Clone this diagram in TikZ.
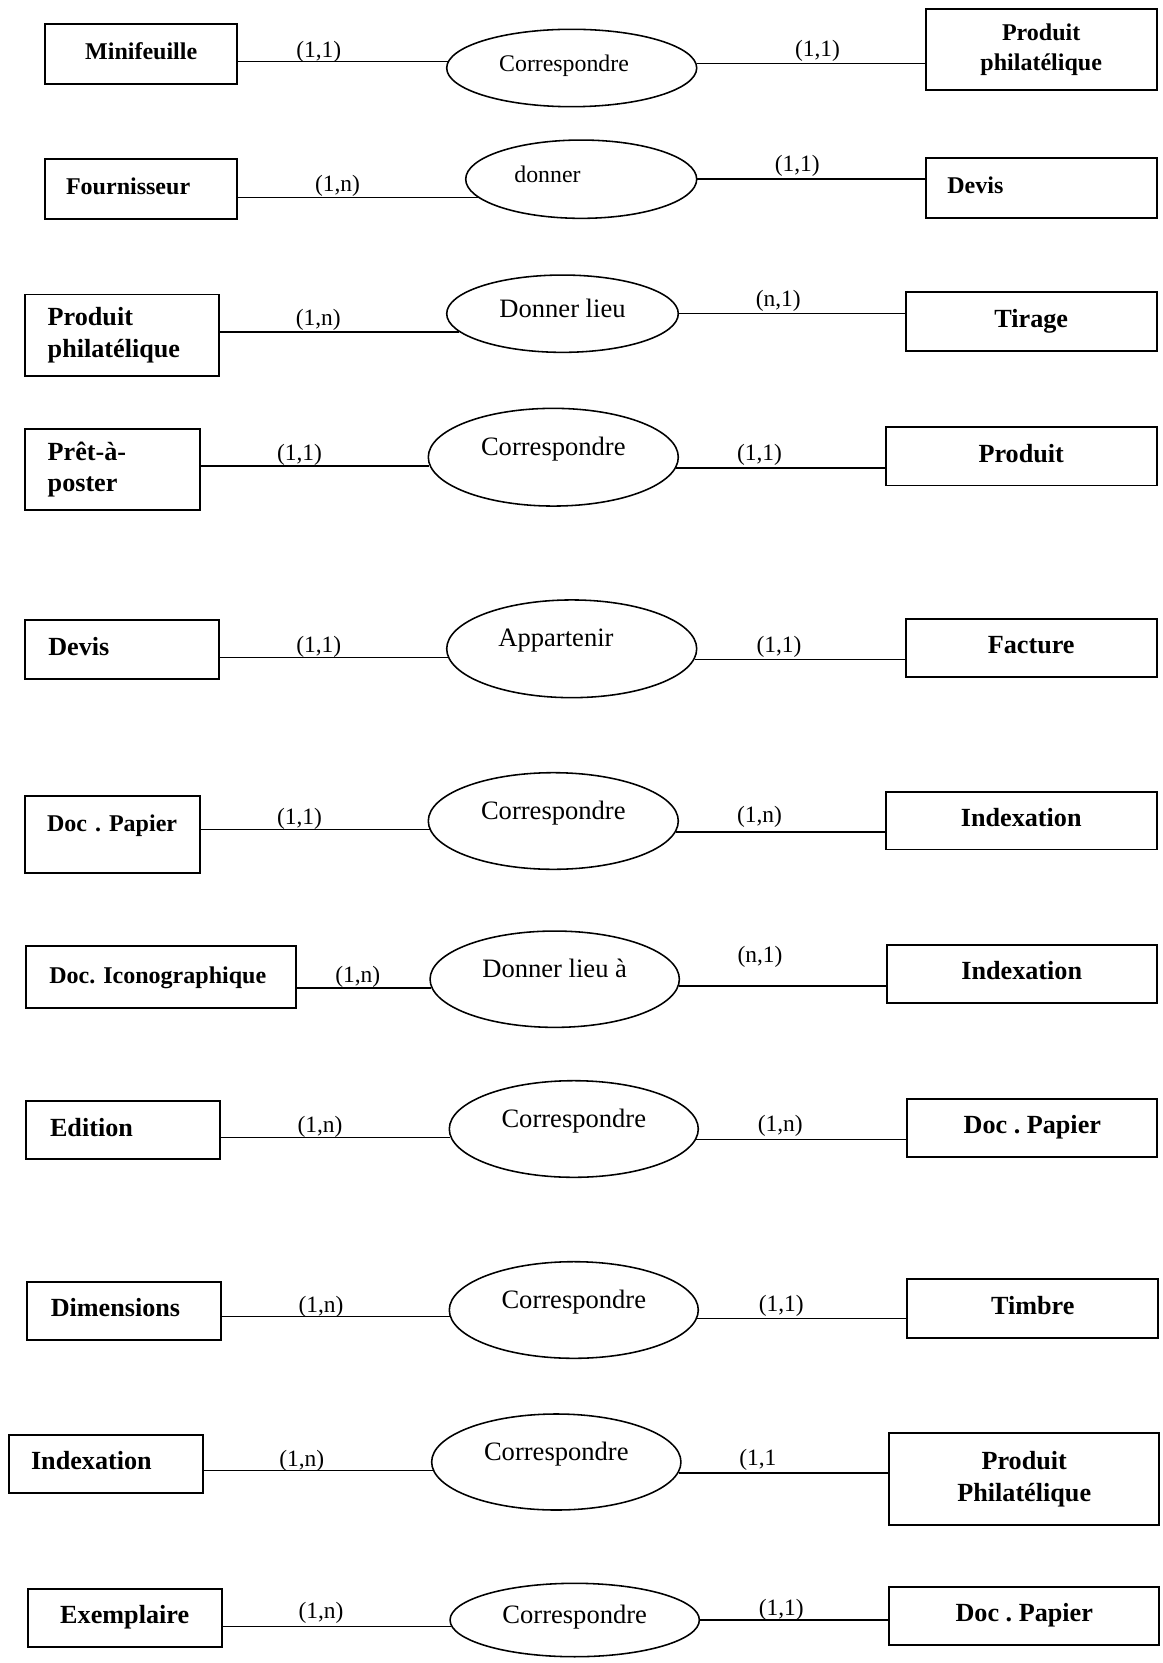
\documentclass[tikz,border=0pt]{standalone}
\usepackage{fontspec}
\setmainfont{Liberation Serif}
\usepackage{tikz}
\usetikzlibrary{shapes.geometric}
\frenchspacing

\begin{document}
\begin{tikzpicture}[x=0.512pt, y=-0.512pt,
		entite/.style={draw, line width=1pt, inner sep=0pt, align=center, font=\fontsize{13.4}{16.3}\selectfont\bfseries},
		petitgras/.style={font=\fontsize{12.3}{15}\selectfont\bfseries},
		une/.style={text height=9pt, text depth=3pt},
		boite/.style 2 args={minimum width=#1*\pas, minimum height=#2*\pas},
		gauche/.style={text width=#1*\pas, align=left},
		assoc/.style={draw, ellipse, line width=0.8pt, inner sep=0pt, font=\fontsize{13.6}{16}\selectfont, text height=9pt, text depth=11pt},
		petit/.style={font=\fontsize{12.2}{15}\selectfont},
		basse/.style={text depth=5.5pt},
		lien/.style={line width=0.8pt},
		card/.style={inner sep=0pt, font=\fontsize{12}{14}\selectfont, text height=8.5pt, text depth=2.5pt}]
					\def\pas{0.512pt};

					\useasboundingbox (0,0) rectangle (1163,1663);

					\begin{scope}[every node/.style={entite}]
						\node[une, petitgras, boite={192.3}{59.9}] (mini) at (141.2,53.9) {Minifeuille};
						\node[petitgras, boite={231}{81.2}] (pp1) at (1041.2,49.6) {Produit\\philatélique};
						\node[une, petitgras, boite={192.3}{59.4}, gauche=150.3] (four) at (141.2,188.9) {Fournisseur};
						\node[une, petitgras, boite={231}{59.5}, gauche=187.8] (devis1) at (1041.2,187.9) {Devis};
						\node[boite={194}{81.2}, gauche=148.6] (pp2) at (122,335.1) {Produit\\philatélique};
						\node[une, boite={251}{59.5}] (tirage) at (1031.2,321.6) {Tirage};
						\node[boite={175}{81.7}, gauche=129.6] (pret) at (112.5,469.6) {Prêt-à-\\poster};
						\node[une, boite={271}{58.4}] (prod) at (1021.2,456.3) {Produit};
						\node[une, boite={194}{59.4}, gauche=147.4] (devis2) at (122,649.5) {Devis};
						\node[une, boite={251}{57.3}] (fact) at (1031.2,647.9) {Facture};
						\node[une, petitgras, text depth=12pt, boite={175}{77.4}, gauche=131] (docpap1) at (112.5,834.7) {Doc\ .\ Papier};
						\node[une, boite={271}{57.8}] (index1) at (1021.2,820.6) {Indexation};
						\node[une, petitgras, boite={270}{62.1}, gauche=223.4] (icono) at (161,977.2) {Doc. Iconographique};
						\node[une, boite={270}{57.9}] (index2) at (1021.7,974) {Indexation};
						\node[une, boite={194}{58.4}, gauche=146] (edit) at (123,1130.2) {Edition};
						\node[une, boite={250}{57.8}] (docpap2) at (1032.3,1127.8) {Doc . Papier};
						\node[une, boite={194.3}{57.8}, gauche=146.3] (dim) at (123.9,1310.9) {Dimensions};
						\node[une, boite={251}{58.4}] (timbre) at (1032.8,1308.5) {Timbre};
						\node[une, boite={193.7}{57.3}, gauche=149.7] (index3) at (105.9,1464) {Indexation};
						\node[boite={270.3}{91.3}] (pp3) at (1024.2,1478.9) {Produit\\Philatélique};
						\node[une, boite={194}{57.3}] (exemp) at (124.7,1617.9) {Exemplaire};
						\node[une, boite={270.3}{58.5}] (docpap3) at (1024.2,1615.8) {Doc . Papier};
					\end{scope}

					\begin{scope}[every node/.style={assoc}]
						\node[basse, petit, boite={250}{77.4}, gauche=145] (cor1) at (571.7,68) {Correspondre};
						\node[basse, petit, boite={231}{78.3}, gauche=133.6] (don) at (581.2,179.2) {donner};
						\node[basse, boite={231.6}{77.3}] (dl) at (562.5,313.7) {Donner lieu};
						\node[boite={250}{97.7}] (cor2) at (553.3,457.2) {Correspondre};
						\node[boite={250}{97.7}, gauche=146.5] (app) at (571.7,648.8) {Appartenir};
						\node[boite={250}{96.6}] (cor3) at (553.3,821) {Correspondre};
						\node[boite={249.3}{96.3}] (dla) at (554.7,979.2) {Donner lieu à};
						\node[boite={249}{96.6}] (cor4) at (573.8,1129) {Correspondre};
						\node[boite={249}{96.6}] (cor5) at (573.8,1310) {Correspondre};
						\node[boite={249.3}{96}] (cor6) at (556.3,1462) {Correspondre};
						\node[basse, boite={249.3}{73.4}] (cor7) at (574.7,1620) {Correspondre};
					\end{scope}

					\begin{scope}[lien]
						\foreach \eg/\ass/\ag/\ad/\ed in {mini/cor1/177.5/2.5/pp1, four/don/190.4/0.6/devis1, pp2/dl/190.7/0.7/tirage, pret/cor2/184.6/355.4/prod, devis2/app/184.5/355.7/fact, docpap1/cor3/184.7/355.3/index1, icono/dla/184.3/357.6/index2, edit/cor4/184.1/355.9/docpap2, dim/cor5/183.7/356.3/timbre, index3/cor6/184.7/355.3/pp3, exemp/cor7/183.2/0/docpap3}
						{
							\draw (\eg.east |- \ass.\ag) -- (\ass.\ag);
							\draw (\ass.\ad) -- (\ass.\ad -| \ed.west);
						}
					\end{scope}

					\begin{scope}
						\foreach \x/\y/\c [count=\i] in {318.8/51.5/{(1,1)}, 817.5/50.4/{(1,1)}, 337.5/186/{(1,n)}, 797.3/166/{(1,1)}, 318.3/320/{(1,n)}, 778.3/300.9/{(n,1)}, 299.5/454.2/{(1,1)}, 759.5/454.7/{(1,1)}, 318.8/646.3/{(1,1)}, 779/646.3/{(1,1)}, 299.5/818.7/{(1,1)}, 759.5/817/{(1,n)}, 357.8/976.3/{(1,n)}, 760/956.7/{(n,1)}, 320/1126.5/{(1,n)}, 780.3/1125.4/{(1,n)}, 321/1307/{(1,n)}, 781.3/1305.8/{(1,1)}, 301.7/1460.8/{(1,n)}, 757.8/1459.7/{(1,1}, 321/1613.1/{(1,n)}, 781.3/1609.4/{(1,1)}}
						{
							\node[card] (card\i) at (\x,\y) {\c};
						}
					\end{scope}
				\end{tikzpicture}
\end{document}
